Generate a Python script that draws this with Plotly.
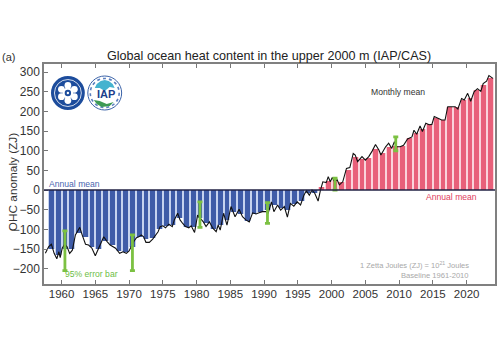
import plotly.graph_objects as go

# Annual mean OHC anomaly (ZJ), one value per year
bar_years = list(range(1958, 2024))
annual_mean = [-150, -165, -150, -150, -110, -120, -145, -150, -130, -140,
               -155, -158, -145, -120, -125, -122, -98, -92, -88, -70,
               -93, -95, -70, -85, -98, -90, -75, -55, -60, -78,
               -60, -56, -50, -38, -45, -50, -36, -28, -8, -8,
               8, 22, 25, 20, 50, 85, 80, 82, 105, 95,
               110, 112, 112, 132, 145, 155, 167, 183, 178, 210,
               210, 230, 235, 254, 268, 284]

# Monthly mean line
line_years = [1957.6, 1958.1, 1958.5, 1958.9, 1959.3, 1959.6, 1959.8, 1960.1, 1960.45, 1960.8,
              1961.2, 1961.6, 1962.05, 1962.7, 1963.05, 1963.55, 1964.0, 1964.5, 1965.0, 1965.5,
              1966.25, 1966.75, 1967.2, 1968.0, 1968.6, 1969.1, 1969.6, 1970.0, 1970.3, 1970.7,
              1971.1, 1971.45, 1971.8, 1972.15, 1972.5, 1973.0, 1973.5, 1973.9, 1974.3, 1974.6,
              1975.0, 1975.4, 1975.9, 1976.4, 1976.7, 1977.2, 1977.55, 1977.95, 1978.35, 1978.85,
              1979.2, 1979.7, 1980.15, 1980.55, 1981.0, 1981.4, 1981.9, 1982.4, 1982.9, 1983.2,
              1983.5, 1984.0, 1984.5, 1985.1, 1985.7, 1986.3, 1986.8, 1987.3, 1987.8, 1988.3,
              1988.8, 1989.25, 1989.75, 1990.25, 1990.6, 1991.1, 1991.45, 1992.0, 1992.45, 1993.0,
              1993.45, 1993.9, 1994.4, 1994.9, 1995.4, 1995.9, 1996.25, 1996.7, 1997.1, 1997.5,
              1998.0, 1998.35, 1998.7, 1999.2, 1999.5, 1999.8, 2000.1, 2000.45, 2000.8, 2001.15,
              2001.65, 2002.2, 2002.7, 2003.2, 2003.5, 2003.85, 2004.5, 2005.0, 2005.5, 2006.0,
              2006.5, 2007.0, 2007.3, 2008.0, 2008.45, 2008.9, 2009.3, 2009.65, 2010.15, 2010.65,
              2011.25, 2011.9, 2012.2, 2012.6, 2013.1, 2013.45, 2013.95, 2014.45, 2014.85, 2015.2,
              2015.7, 2016.3, 2016.8, 2017.2, 2017.8, 2018.3, 2018.7, 2019.25, 2019.65, 2020.15,
              2020.6, 2021.1, 2021.6, 2022.1, 2022.45, 2022.95, 2023.3, 2023.9]
monthly_mean = [-161, -144, -138, -161, -175, -157, -172, -148, -138, -144,
                -161, -153, -114, -95, -114, -138, -140, -148, -167, -148,
                -119, -131, -140, -148, -161, -157, -161, -155, -144, -131,
                -121, -119, -114, -119, -133, -133, -125, -114, -106, -93,
                -91, -96, -87, -93, -76, -59, -76, -85, -93, -96,
                -91, -108, -64, -72, -81, -93, -81, -97, -106, -89,
                -102, -59, -89, -42, -68, -49, -68, -76, -81, -58,
                -61, -58, -55, -55, -59, -30, -55, -38, -51, -42,
                -69, -34, -41, -30, -38, -13, -2, -13, 0, -8,
                -28, 0, 21, 19, 34, 21, 32, 21, 27, 13,
                21, 55, 57, 93, 89, 72, 85, 76, 85, 99,
                116, 102, 89, 110, 119, 106, 123, 110, 110, 114,
                130, 135, 152, 142, 163, 149, 170, 166, 167, 187,
                182, 178, 178, 212, 212, 212, 206, 233, 229, 246,
                226, 250, 258, 251, 271, 277, 291, 284]

# 95% error bars
err_years = [1960.5, 1970.5, 1980.5, 1990.5, 2000.5, 2009.5]
err_low = [-205, -205, -95, -85, 0, 100]
err_high = [-104, -114, -30, -32, 30, 135]

x_ticks = list(range(1960, 2025, 5))
y_ticks = list(range(-200, 301, 50))

x_mid = [y + 0.5 for y in bar_years]
colors_dark = ["#3F5CA8" if v < 0 else "#E8607A" for v in annual_mean]
colors_pale = ["#C6D3EF" if v < 0 else "#FAD3DB" for v in annual_mean]
err_mid = [(a + b) / 2 for a, b in zip(err_low, err_high)]
err_half = [(b - a) / 2 for a, b in zip(err_low, err_high)]

fig = go.Figure()
fig.add_bar(x=x_mid, y=annual_mean, width=1.0, marker=dict(color=colors_pale, line_width=0), showlegend=False)
fig.add_bar(x=x_mid, y=annual_mean, width=0.72, marker=dict(color=colors_dark, line_width=0), showlegend=False)
fig.add_scatter(x=line_years, y=monthly_mean, mode="lines",
                line=dict(color="#111111", width=1.1), showlegend=False)
fig.add_scatter(x=err_years, y=err_mid, mode="markers", marker=dict(size=1, color="#7CC142"),
                error_y=dict(type="data", symmetric=True, array=err_half,
                             color="#7CC142", thickness=2.8, width=2.5), showlegend=False)

L, R, T, B = 44, 497, 64, 284
def px(x): return (x - L) / (R - L)
def py(y): return (B - y) / (B - T)

def circle(cx, cy, r, fill, line="rgba(0,0,0,0)", w=0, dash=None):
    ln = dict(color=line, width=w)
    if dash: ln["dash"] = dash
    return dict(type="circle", xref="paper", yref="paper", layer="above",
                x0=px(cx - r), x1=px(cx + r), y0=py(cy + r), y1=py(cy - r),
                fillcolor=fill, line=ln)

shapes = [dict(type="line", xref="paper", yref="y", x0=0, x1=1, y0=0, y1=0,
               line=dict(color="#222244", width=1.4), layer="above")]

# left logo
NAVY = "#1C4C9C"
shapes += [circle(68, 93, 17, NAVY), circle(68, 93, 13.5, NAVY, "#FFFFFF", 0.8)]
for dx, dy in [(0, -7.5), (6.5, -3.7), (6.5, 3.7), (0, 7.5), (-6.5, 3.7), (-6.5, -3.7)]:
    shapes.append(circle(68 + dx, 93 + dy, 3.4, "#FFFFFF"))
shapes += [circle(68, 93, 5.5, "#FFFFFF"), circle(68, 93, 3.2, NAVY), circle(68, 93, 1.2, "#FFFFFF")]

# right logo
def path(points, fill):
    d = "M " + " L ".join(f"{px(a):.4f},{py(b):.4f}" for a, b in points) + " Z"
    return dict(type="path", xref="paper", yref="paper", layer="above", path=d,
                fillcolor=fill, line=dict(width=0))
shapes += [circle(105, 93, 17, "#FFFFFF", "#3A62A8", 1.0),
           circle(105, 93, 14.5, "#FFFFFF", "#5A7FBF", 1.6, "dot"),
           path([(95, 88), (97, 84), (101, 81), (105, 80), (109, 81), (113, 84), (115, 88),
                 (110, 87), (105, 91), (100, 88)], "#45B3CF"),
           path([(94, 100), (100, 101), (107, 104), (114, 102), (110, 106), (102, 107), (97, 104)], "#3E9A55")]

annos = [
    dict(text="Global ocean heat content in the upper 2000 m (IAP/CAS)", x=270, y=56.5, size=12.6, color="#222222"),
    dict(text="(a)", x=8.5, y=57, size=11, color="#333333"),
    dict(text="Monthly mean", x=400, y=92, size=8.6, color="#333333"),
    dict(text="Annual mean", x=75, y=183.5, size=8.6, color="#4A66B0"),
    dict(text="Annual mean", x=453, y=196.5, size=8.6, color="#E0405E"),
    dict(text="95% error bar", x=91.5, y=273.5, size=8.6, color="#6DBE45"),
    dict(text="1 Zetta Joules (ZJ) = 10<sup>21</sup> Joules", x=472, y=265, size=7.5, color="#A8A8A8", xanchor="right"),
    dict(text="Baseline 1961-2010", x=472, y=275, size=7.6, color="#A8A8A8", xanchor="right"),
    dict(text="<b>IAP</b>", x=106, y=94, size=11, color="#1C3F8C"),
]
annotations = [dict(text=a["text"], xref="paper", yref="paper", x=px(a["x"]), y=py(a["y"]),
                    xanchor=a.get("xanchor", "center"), yanchor="middle", showarrow=False,
                    font=dict(size=a["size"], color=a["color"]), borderpad=0, yshift=0)
               for a in annos]
annotations.append(dict(text="OHC anomaly (ZJ)", xref="paper", yref="paper", x=px(13), y=py(182),
                        textangle=-90, showarrow=False, xanchor="center", yanchor="middle",
                        font=dict(size=11.8, color="#333333")))

fig.update_layout(
    width=500, height=350, margin=dict(l=L, r=500 - R, t=T, b=350 - B),
    paper_bgcolor="white", plot_bgcolor="white", barmode="overlay", bargap=0,
    font=dict(family="Liberation Sans, Arial, sans-serif", color="#333333"),
    shapes=shapes, annotations=annotations, showlegend=False,
    xaxis=dict(range=[1957.4, 2024.2], tickmode="array", tickvals=x_ticks, ticks="inside", ticklen=4,
               tickcolor="#777777", tickwidth=1, mirror="ticks", showline=True, linecolor="#808080",
               linewidth=1.5, showgrid=False, zeroline=False, ticklabelstandoff=-2,
               tickfont=dict(size=11.5, color="#333333")),
    yaxis=dict(range=[-239, 320.6], tickmode="array", tickvals=y_ticks, ticks="inside", ticklen=4,
               tickcolor="#777777", tickwidth=1, mirror=True, showline=True, linecolor="#808080",
               linewidth=1.5, showgrid=False, zeroline=False, tickfont=dict(size=12, color="#333333")),
)
fig.write_html("out.html", config=dict(displayModeBar=False),
               post_script="document.body.style.margin='0';document.body.style.overflow='hidden';")
